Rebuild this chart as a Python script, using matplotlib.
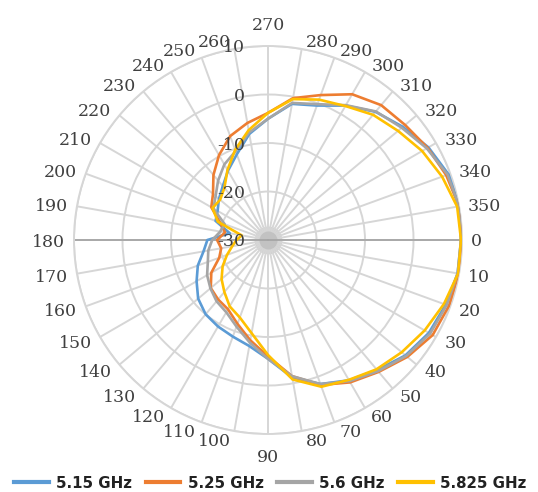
import numpy as np
import matplotlib
matplotlib.use("Agg")
import matplotlib.pyplot as plt

# category angles (deg) and radial scale (dB)
angles_deg = list(range(0, 360, 10))
angle_labels = [str(a) for a in angles_deg]
r_ticks = [-30, -20, -10, 0, 10]

series_names = ["5.15 GHz", "5.25 GHz", "5.6 GHz", "5.825 GHz"]
series_colors = ["#5B9BD5", "#ED7D31", "#A5A5A5", "#FFC000"]

# values, 0..350 deg in 10 deg steps
f515 = [9.8, 9.7, 9.0, 8.3, 7.0, 5.0, 3.4, 1.6, -1.2, -5.5,
        -7.8, -8.8, -9.4, -10.0, -11.2, -13.0, -14.6, -16.5, -17.5, -22.0,
        -18.5, -18.0, -16.8, -15.5, -13.5, -11.2, -7.8, -5.0, -1.5, -0.5,
        2.0, 4.5, 6.3, 8.2, 9.6, 10.0]
f525 = [9.9, 9.9, 9.7, 9.2, 7.5, 5.5, 3.9, 1.8, -1.5, -6.0,
        -9.0, -11.6, -13.5, -14.0, -14.6, -16.5, -19.3, -20.2, -19.5, -21.0,
        -19.5, -16.5, -15.2, -12.5, -9.8, -7.2, -5.5, -3.8, -0.3, 1.8,
        4.7, 6.3, 6.9, 8.0, 9.1, 10.0]
f560 = [9.8, 9.7, 9.2, 8.6, 7.2, 5.3, 3.6, 1.6, -1.5, -5.5,
        -8.5, -11.0, -12.8, -13.5, -14.5, -15.5, -16.8, -17.5, -18.5, -20.0,
        -20.5, -17.0, -15.9, -14.0, -12.0, -10.5, -7.5, -5.0, -1.3, -0.2,
        2.1, 4.6, 6.0, 7.8, 9.4, 10.0]
f5825 = [9.8, 9.8, 8.6, 7.3, 6.0, 4.8, 3.3, 2.2, -0.8, -6.3,
         -10.5, -13.0, -14.2, -16.0, -17.5, -19.2, -21.0, -22.5, -23.5, -24.5,
         -19.0, -16.8, -17.1, -16.0, -13.3, -10.2, -7.0, -3.8, -0.5, 0.8,
         1.9, 3.7, 5.0, 6.7, 8.2, 9.6]
series_values = [f515, f525, f560, f5825]

W, H = 538, 492
cx, cy, R = 268, 240, 194

fig = plt.figure(figsize=(W / 100, H / 100), dpi=100)
ax = fig.add_axes([(cx - R) / W, (H - cy - R) / H, 2 * R / W, 2 * R / H],
                  projection="polar")
ax.set_theta_zero_location("E")
ax.set_theta_direction(-1)
ax.set_ylim(-30, 10)

ax.set_xticks(np.deg2rad(angles_deg))
ax.set_xticklabels([])
ax.set_yticks(r_ticks)
ax.set_yticklabels([])
ax.tick_params(length=0)
ax.grid(True, color="#D6D6D6", lw=1.4)
ax.spines["polar"].set_color("#D6D6D6")
ax.spines["polar"].set_linewidth(1.4)

# darker horizontal axis line
for a in (0, 180):
    ax.plot([np.deg2rad(a)] * 2, [-30, 10], color="#A6A6A6", lw=1.3, zorder=2)

# spokes pile up into a grey blot at the centre
ax.plot([0], [-30], "o", ms=20, color="#D0D0D0", mec="none", zorder=1.5)
ax.plot([0], [-30], "o", ms=13, color="#C2C2C2", mec="none", zorder=1.6)

theta = np.deg2rad(angles_deg + [360])
for name, col, vals in zip(series_names, series_colors, series_values):
    ax.plot(theta, vals + [vals[0]], color=col, lw=1.9, label=name,
            zorder=3, solid_joinstyle="round")

text_color = "#404040"
label_font = dict(family="DejaVu Serif", size=12.5, color=text_color)

# value labels along the 270 axis
for v in r_ticks:
    ax.annotate(str(v), xy=(np.deg2rad(270), v), xytext=(-23, 0),
                textcoords="offset pixels", ha="right", va="center_baseline",
                zorder=4, annotation_clip=False, **label_font)

# category labels around the outer ring
cat_texts = []
for a, lab in zip(angles_deg, angle_labels):
    t = ax.annotate(lab, xy=(np.deg2rad(a), 10), xytext=(0, 0),
                    textcoords="offset pixels", ha="center",
                    va="center_baseline", annotation_clip=False, **label_font)
    cat_texts.append((a, t))

fig.canvas.draw()
renderer = fig.canvas.get_renderer()
for a, t in cat_texts:
    w = t.get_window_extent(renderer).width
    c, s = np.cos(np.deg2rad(a)), np.sin(np.deg2rad(a))
    if abs(c) < 1e-6:
        t.xyann = (0, -22 * s)
    else:
        dx = np.sign(c) * (w / 2 + 9 * np.sqrt(abs(c)))
        t.xyann = (dx, -9 * s)

leg_handles = [plt.Line2D([], [], color=c, lw=3) for c in series_colors]
fig.legend(leg_handles, series_names, loc="center",
           bbox_to_anchor=(0.503, 1 - 483 / H), ncol=4, frameon=False,
           prop=dict(family="DejaVu Sans", weight="bold", size=10.8),
           labelcolor="#222222", handlelength=2.3, handletextpad=0.5,
           columnspacing=0.9, borderpad=0.2)

fig.savefig("out.png", dpi=100)
